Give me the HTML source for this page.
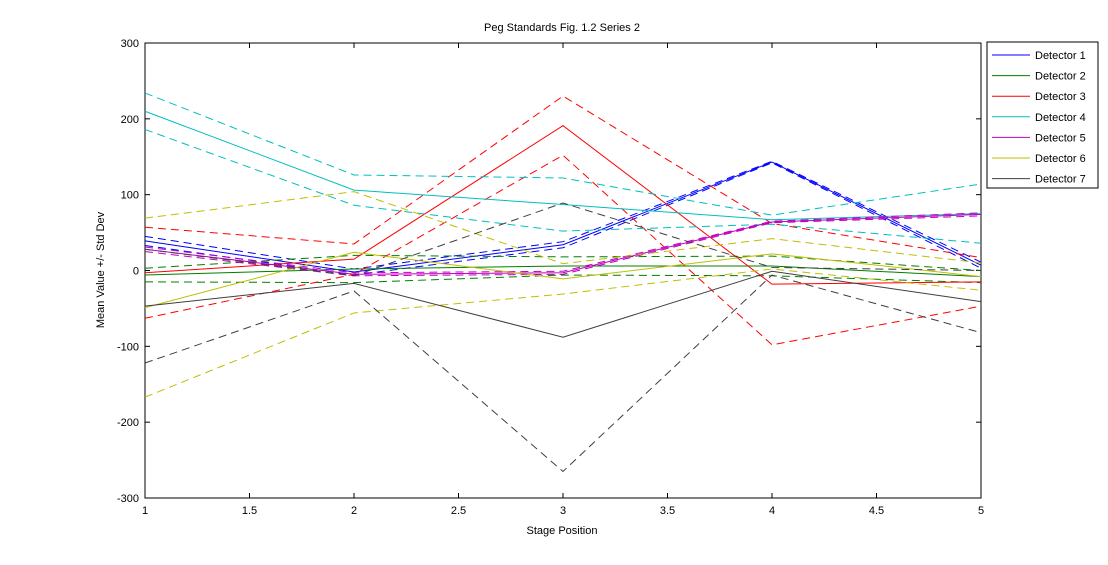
<!DOCTYPE html>
<html><head><meta charset="utf-8"><style>
body{margin:0;background:#fff;font-family:"Liberation Sans",sans-serif}
svg text{font-family:"Liberation Sans",sans-serif;font-size:11px;fill:#000}
</style></head><body>
<svg id="chart" width="1108" height="560">
<rect x="0" y="0" width="1108" height="560" fill="#fff"/>
<text x="562" y="31" text-anchor="middle">Peg Standards Fig. 1.2 Series 2</text>
<text x="562" y="534" text-anchor="middle">Stage Position</text>
<text transform="translate(104,270) rotate(-90)" text-anchor="middle">Mean Value +/- Std Dev</text>
<g id="axes"></g><g id="series"></g><g id="legend"></g>
</svg>
<script>
const positions=[1,2,3,4,5];
const xTicks=[1,1.5,2,2.5,3,3.5,4,4.5,5];
const yTicks=[-300,-200,-100,0,100,200,300];
const names=["Detector 1","Detector 2","Detector 3","Detector 4","Detector 5","Detector 6","Detector 7"];
const colors=["#0000ff","#007f00","#ff0000","#00bfbf","#bf00bf","#bfbf00","#3f3f3f"];
const mean1=[39,-2,34,143,7];   const std1=[6,4,4,1,4];
const mean2=[-6,2,6,6,-8];      const std2=[9,18,12,13,8];
const mean3=[-3,15,191,-18,-15];const std3=[60,20,39,80,32];
const mean4=[210,106,87,67,75]; const std4=[24,20,35,6,39];
const mean5=[28,-5,-3,64,74];   const std5=[3,2,2,1,2];
const mean6=[-49,24,-11,22,-8]; const std6=[118,80,20,20,18];
const mean7=[-47,-17,-88,-1,-41];const std7=[75,10,177,5,41];
const means=[mean1,mean2,mean3,mean4,mean5,mean6,mean7];
const stds=[std1,std2,std3,std4,std5,std6,std7];
const L=145,R=981,T=43,B=498;
const sx=v=>L+(v-1)/4*(R-L);
const sy=v=>B-(v+300)/600*(B-T);
const NS="http://www.w3.org/2000/svg";
function mk(t,a,p){const e=document.createElementNS(NS,t);for(const k in a)e.setAttribute(k,a[k]);p.appendChild(e);return e;}
const ax=document.getElementById('axes');
let box=mk('rect',{x:L,y:T,width:R-L,height:B-T,fill:'none',stroke:'#000','stroke-width':1},ax);


xTicks.forEach(t=>{const x=sx(t);
mk('line',{x1:x,x2:x,y1:B,y2:B-5,stroke:'#000'},ax);mk('line',{x1:x,x2:x,y1:T,y2:T+5,stroke:'#000'},ax);
const tx=mk('text',{x:x,y:B+16,'text-anchor':'middle'},ax);tx.textContent=t;

});
yTicks.forEach(t=>{const y=sy(t);
mk('line',{x1:L,x2:L+5,y1:y,y2:y,stroke:'#000'},ax);mk('line',{x1:R,x2:R-5,y1:y,y2:y,stroke:'#000'},ax);
const tx=mk('text',{x:L-6,y:y+4,'text-anchor':'end'},ax);tx.textContent=t;

});
const sg=document.getElementById('series');
means.forEach((m,i)=>{
 const s=stds[i];
 const pts=f=>positions.map((p,j)=>sx(p)+','+sy(f(j))).join(' ');
 const up=mk('polyline',{points:pts(j=>m[j]+s[j]),fill:'none',stroke:colors[i],'stroke-dasharray':'8,5'},sg);
 
 
 const lo=mk('polyline',{points:pts(j=>m[j]-s[j]),fill:'none',stroke:colors[i],'stroke-dasharray':'8,5'},sg);
 
 
 const ln=mk('polyline',{points:pts(j=>m[j]),fill:'none',stroke:colors[i]},sg);
 
 
});
const lg=document.getElementById('legend');
const lb=mk('rect',{x:987,y:42,width:111,height:146,fill:'#fff',stroke:'#000'},lg);


names.forEach((n,i)=>{const y=55+i*20.6;
 mk('line',{x1:992,x2:1030,y1:y,y2:y,stroke:colors[i]},lg);
 const t=mk('text',{x:1035,y:y+4},lg);t.textContent=n;
 
 });
</script>
</body></html>
